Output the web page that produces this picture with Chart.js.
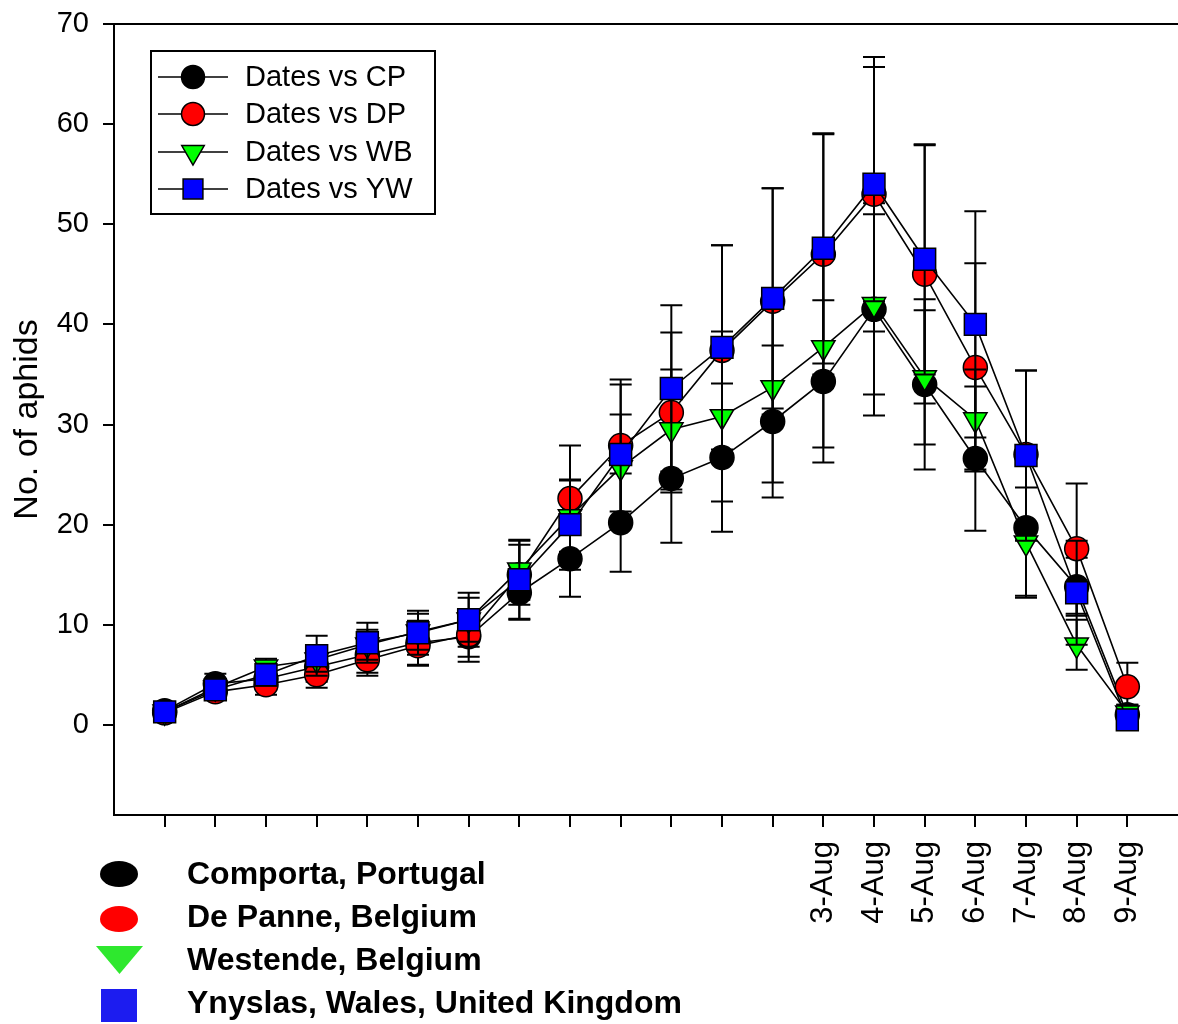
<!DOCTYPE html>
<html><head><meta charset="utf-8">
<script src="https://cdn.jsdelivr.net/npm/chart.js@4.4.1/dist/chart.umd.min.js"></script>
<style>html,body{margin:0;padding:0;background:#fff;overflow:hidden}</style>
</head><body>
<canvas id="c" width="1178" height="1024"></canvas>
<script>
const categories = ['', '', '', '', '', '', '', '', '', '', '', '', '', '3-Aug', '4-Aug', '5-Aug', '6-Aug', '7-Aug', '8-Aug', '9-Aug'];
const yTickValues = [0, 10, 20, 30, 40, 50, 60, 70];

const cpValues = [1.4, 4.1, 4.6, 5.8, 7.0, 8.2, 8.8, 13.2, 16.6, 20.2, 24.6, 26.7, 30.3, 34.3, 41.5, 34.0, 26.6, 19.7, 13.8, 1.0];
const cpErrors = [0.5, 1.0, 1.0, 1.5, 1.8, 2.2, 2.5, 2.7, 3.8, 4.9, 6.4, 7.4, 7.6, 8.1, 10.6, 8.5, 7.2, 6.8, 2.9, 1.0];
const dpValues = [1.2, 3.3, 4.0, 5.0, 6.5, 7.9, 9.0, 15.0, 22.6, 27.9, 31.2, 37.4, 42.3, 47.0, 53.0, 45.0, 35.7, 27.0, 17.6, 3.8];
const dpErrors = [0.4, 0.8, 1.0, 1.3, 1.6, 2.0, 2.2, 3.0, 5.3, 6.6, 8.0, 10.5, 11.3, 12.0, 13.7, 12.9, 10.4, 8.4, 6.5, 2.4];
const wbValues = [1.3, 3.7, 5.8, 6.5, 8.0, 9.3, 10.5, 15.5, 20.8, 25.7, 29.5, 30.8, 33.7, 37.7, 42.0, 34.7, 30.5, 18.2, 8.0, 1.2];
const wbErrors = [0.4, 0.9, 0.8, 1.2, 1.5, 1.8, 2.2, 3.0, 3.6, 5.3, 6.0, 8.5, 9.5, 10.0, 9.0, 6.7, 5.0, 5.5, 2.5, 0.8];
const ywValues = [1.3, 3.5, 5.0, 6.9, 8.2, 9.2, 10.5, 14.5, 20.0, 27.0, 33.6, 37.7, 42.6, 47.6, 54.0, 46.5, 40.0, 26.9, 13.2, 0.5];
const ywErrors = [0.4, 0.8, 1.1, 2.0, 2.0, 2.2, 2.7, 3.9, 4.5, 7.0, 8.3, 10.2, 11.0, 11.5, 11.7, 11.5, 11.3, 8.5, 5.2, 1.0];

const seriesNames = ['Dates vs CP', 'Dates vs DP', 'Dates vs WB', 'Dates vs YW'];
const siteNames = ['Comporta, Portugal', 'De Panne, Belgium', 'Westende, Belgium', 'Ynyslas, Wales, United Kingdom'];

const FONT = '"Liberation Sans", Arial, Helvetica, sans-serif';

function pts(vals) { return vals.map((v, i) => ({ x: i, y: v })); }

const styles = [
  { fill: '#000000', style: 'circle', radius: 12, rotation: 0 },
  { fill: '#ff0000', style: 'circle', radius: 12, rotation: 0 },
  { fill: '#00ff00', style: 'triangle', radius: 13.5, rotation: 180 },
  { fill: '#0000ff', style: 'rect', radius: 15.5, rotation: 0 }
];
const valueSets = [cpValues, dpValues, wbValues, ywValues];
const errorSets = [cpErrors, dpErrors, wbErrors, ywErrors];

const datasets = valueSets.map((vals, k) => ({
  label: seriesNames[k],
  data: pts(vals),
  errors: errorSets[k],
  order: 4 - k,
  borderColor: '#000',
  borderWidth: 1.6,
  backgroundColor: styles[k].fill,
  pointBackgroundColor: styles[k].fill,
  pointBorderColor: '#000',
  pointBorderWidth: 1.5,
  pointStyle: styles[k].style,
  pointRadius: styles[k].radius,
  pointRotation: styles[k].rotation,
  tension: 0,
  clip: false
}));

const errorBarPlugin = {
  id: 'errbars',
  beforeDatasetDraw(chart, args) {
    const ds = chart.data.datasets[args.index];
    const ctx = chart.ctx, xs = chart.scales.x, ys = chart.scales.y;
    ctx.save();
    ctx.strokeStyle = '#000';
    ctx.lineWidth = 2;
    ds.data.forEach((p, i) => {
      const e = ds.errors[i];
      const px = xs.getPixelForValue(p.x);
      const top = ys.getPixelForValue(p.y + e);
      const bot = ys.getPixelForValue(p.y - e);
      ctx.beginPath();
      ctx.moveTo(px, top); ctx.lineTo(px, bot);
      ctx.moveTo(px - 11, top); ctx.lineTo(px + 11, top);
      ctx.moveTo(px - 11, bot); ctx.lineTo(px + 11, bot);
      ctx.stroke();
    });
    ctx.restore();
  }
};

const decorPlugin = {
  id: 'decor',
  afterDraw(chart) {
    const ctx = chart.ctx, ca = chart.chartArea;
    ctx.save();
    ctx.strokeStyle = '#000'; ctx.lineWidth = 2;
    ctx.beginPath(); ctx.moveTo(ca.left, ca.top); ctx.lineTo(ca.right, ca.top); ctx.stroke();

    ctx.save();
    ctx.translate(28, (ca.top + ca.bottom) / 2);
    ctx.rotate(-Math.PI / 2);
    ctx.fillStyle = '#000';
    ctx.font = '34px ' + FONT;
    ctx.textAlign = 'center'; ctx.textBaseline = 'middle';
    ctx.fillText('No. of aphids', 0, 0);
    ctx.restore();

    ctx.lineWidth = 2; ctx.strokeStyle = '#000';
    ctx.strokeRect(151, 51, 284, 163);
    const rows = [77, 114, 152, 189];
    ctx.font = '29px ' + FONT;
    ctx.textBaseline = 'middle'; ctx.textAlign = 'left';
    rows.forEach((y, k) => {
      ctx.strokeStyle = '#000'; ctx.lineWidth = 1.6;
      ctx.beginPath(); ctx.moveTo(158, y); ctx.lineTo(228, y); ctx.stroke();
      ctx.fillStyle = styles[k].fill; ctx.strokeStyle = '#000'; ctx.lineWidth = 1.5;
      Chart.helpers.drawPoint(ctx, { pointStyle: styles[k].style, radius: k === 3 ? 14 : (k === 2 ? 13 : 11.5), rotation: styles[k].rotation, borderWidth: 1.5 }, 193, y);
      ctx.fillStyle = '#000';
      ctx.fillText(seriesNames[k], 245, y + 1);
    });

    ctx.font = 'bold 32px ' + FONT;
    const by = [874, 917, 960, 1003];
    ctx.fillStyle = '#000';
    ctx.beginPath(); ctx.ellipse(119, by[0], 19, 13, 0, 0, Math.PI * 2); ctx.fill();
    ctx.fillStyle = '#ff0000';
    ctx.beginPath(); ctx.ellipse(119, by[1] + 2, 19, 13, 0, 0, Math.PI * 2); ctx.fill();
    ctx.fillStyle = '#2ee82e';
    ctx.beginPath(); ctx.moveTo(96, 946); ctx.lineTo(143, 946); ctx.lineTo(119.5, 974); ctx.closePath(); ctx.fill();
    ctx.fillStyle = '#1c1cf0';
    ctx.fillRect(101, 989, 36, 33);
    ctx.fillStyle = '#000';
    by.forEach((y, k) => ctx.fillText(siteNames[k], 187, y + 1));
    ctx.restore();
  }
};

new Chart(document.getElementById('c'), {
  type: 'line',
  data: { datasets },
  options: {
    responsive: false,
    animation: false,
    devicePixelRatio: 1,
    layout: { autoPadding: false, padding: { top: 24, right: 0, left: 0, bottom: 0 } },
    plugins: { legend: { display: false }, tooltip: { enabled: false } },
    scales: {
      x: {
        type: 'linear', min: -1, max: 20,
        afterBuildTicks(s) { s.ticks = categories.map((c, i) => ({ value: i })); },
        afterFit(s) { s.height = 209; s.paddingLeft = 0; s.paddingRight = 0; },
        grid: { display: true, drawOnChartArea: false, drawTicks: true, tickLength: 12, color: '#000', lineWidth: 2 },
        border: { display: true, color: '#000', width: 2 },
        ticks: {
          autoSkip: false, maxRotation: 90, minRotation: 90, padding: 14,
          color: '#000', font: { size: 31, family: FONT },
          callback: (v) => categories[v] || ''
        }
      },
      y: {
        type: 'linear', min: -9, max: 70,
        afterBuildTicks(s) { s.ticks = yTickValues.map(v => ({ value: v })); },
        afterFit(s) { s.width = 114; s.paddingTop = 0; s.paddingBottom = 0; },
        grid: { display: true, drawOnChartArea: false, drawTicks: true, tickLength: 11, color: '#000', lineWidth: 2 },
        border: { display: true, color: '#000', width: 2 },
        ticks: { color: '#000', padding: 14, font: { size: 29, family: FONT } }
      }
    }
  },
  plugins: [errorBarPlugin, decorPlugin]
});
</script>
</body></html>
